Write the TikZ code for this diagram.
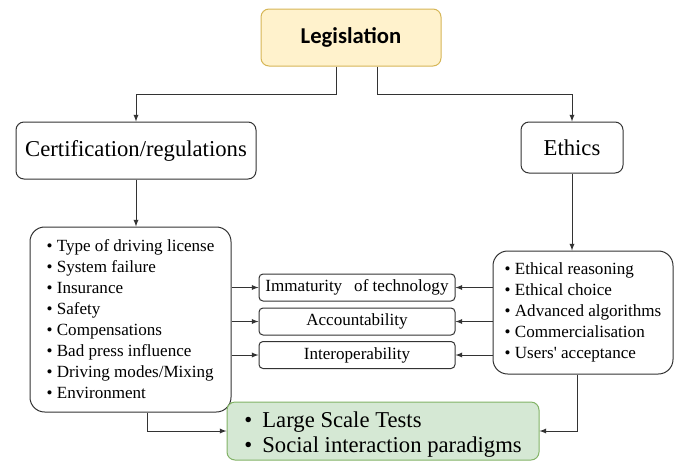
\documentclass[tikz,border=0pt]{standalone}
\usepackage{fontspec}
\setmainfont{Liberation Serif}
\newfontfamily\calibrifont{Carlito}
\usepackage{tikz}
\tikzset{>=latex}
\definecolor{legfill}{HTML}{FFF2CC}
\definecolor{legdraw}{HTML}{D6B656}
\definecolor{testfill}{HTML}{D5E8D4}
\definecolor{testdraw}{HTML}{82B366}
\definecolor{linegray}{HTML}{333333}
\tikzset{box/.style={draw=linegray, line width=0.75pt, rounded corners=6pt, inner sep=0pt, align=center}}
\tikzset{titlebox/.style={box, font=\fontsize{17}{20}\selectfont}}
\tikzset{listbox/.style={box, rounded corners=11pt, align=left, font=\fontsize{12.8}{15.75}\selectfont}}
\tikzset{issuebox/.style={box, rounded corners=3pt, minimum width=147pt, minimum height=20.25pt, font=\fontsize{12.8}{15}\selectfont}}
\tikzset{link/.style={->, draw=linegray, line width=0.75pt}}

\begin{document}
\begin{tikzpicture}[x=0.75pt, y=-0.75pt]
    \useasboundingbox(0, 0)rectangle(680, 461);
    \node[box, fill=legfill, draw=legdraw, minimum width=135pt, minimum height=42.75pt, font={\calibrifont\fontsize{17}{20}\selectfont\bfseries}](leg)at(351, 37.5){Legislation};
    \node[titlebox, minimum width=180pt, minimum height=42.75pt](cert)at(136, 150.5){Certification/regulations};
    \node[titlebox, minimum width=76.5pt, minimum height=38.25pt](eth)at(572, 147.5){Ethics};
    \node[listbox, minimum width=150.75pt, minimum height=138.75pt](llist)at(130.5, 319.5){\textbullet\ Type of driving license\\
        \textbullet\ System failure\\
        \textbullet\ Insurance\\
        \textbullet\ Safety\\
        \textbullet\ Compensations\\
        \textbullet\ Bad press influence\\
        \textbullet\ Driving modes/Mixing\\
        \textbullet\ Environment};
    \node[listbox, minimum width=135pt, minimum height=92.25pt](rlist)at(583, 312.5){\textbullet\ Ethical reasoning\\
        \textbullet\ Ethical choice\\
        \textbullet\ Advanced algorithms\\
        \textbullet\ Commercialisation\\
        \textbullet\ Users\textquotesingle\ acceptance};
    \node[issuebox](imm)at(357, 287.5){Immaturity\hspace{0.7em}of technology};
    \node[issuebox](acc)at(357, 321.5){Accountability};
    \node[issuebox](inter)at(357, 355){Interoperability};
    \node[box, fill=testfill, draw=testdraw, align=left, minimum width=234pt, minimum height=43.5pt, font=\fontsize{17}{19}\selectfont](test)at(383, 431){\rule{0pt}{17pt}\textbullet\hspace{0.45em}Large Scale Tests\\
        \textbullet\hspace{0.45em}Social interaction paradigms};
    \draw[link]([xshift=-11.25pt]leg.south)--++(0, 28)-|(cert.north);
    \draw[link]([xshift=19.5pt]leg.south)--++(0, 28)-|(eth.north);
    \draw[link](cert.south)--(cert.south|-llist.north);
    \draw[link](eth.south)--(eth.south|-rlist.north);
    \draw[link](llist.east|-imm)--(imm.west);
    \draw[link](llist.east|-acc)--(acc.west);
    \draw[link](llist.east|-inter)--(inter.west);
    \draw[link](rlist.west|-imm)--(imm.east);
    \draw[link](rlist.west|-acc)--(acc.east);
    \draw[link](rlist.west|-inter)--(inter.east);
    \draw[link]([xshift=12.4pt]llist.south)|-(test.west);
    \draw[link]([xshift=-4.5pt]rlist.south)|-(test.east);
\end{tikzpicture}
\end{document}
